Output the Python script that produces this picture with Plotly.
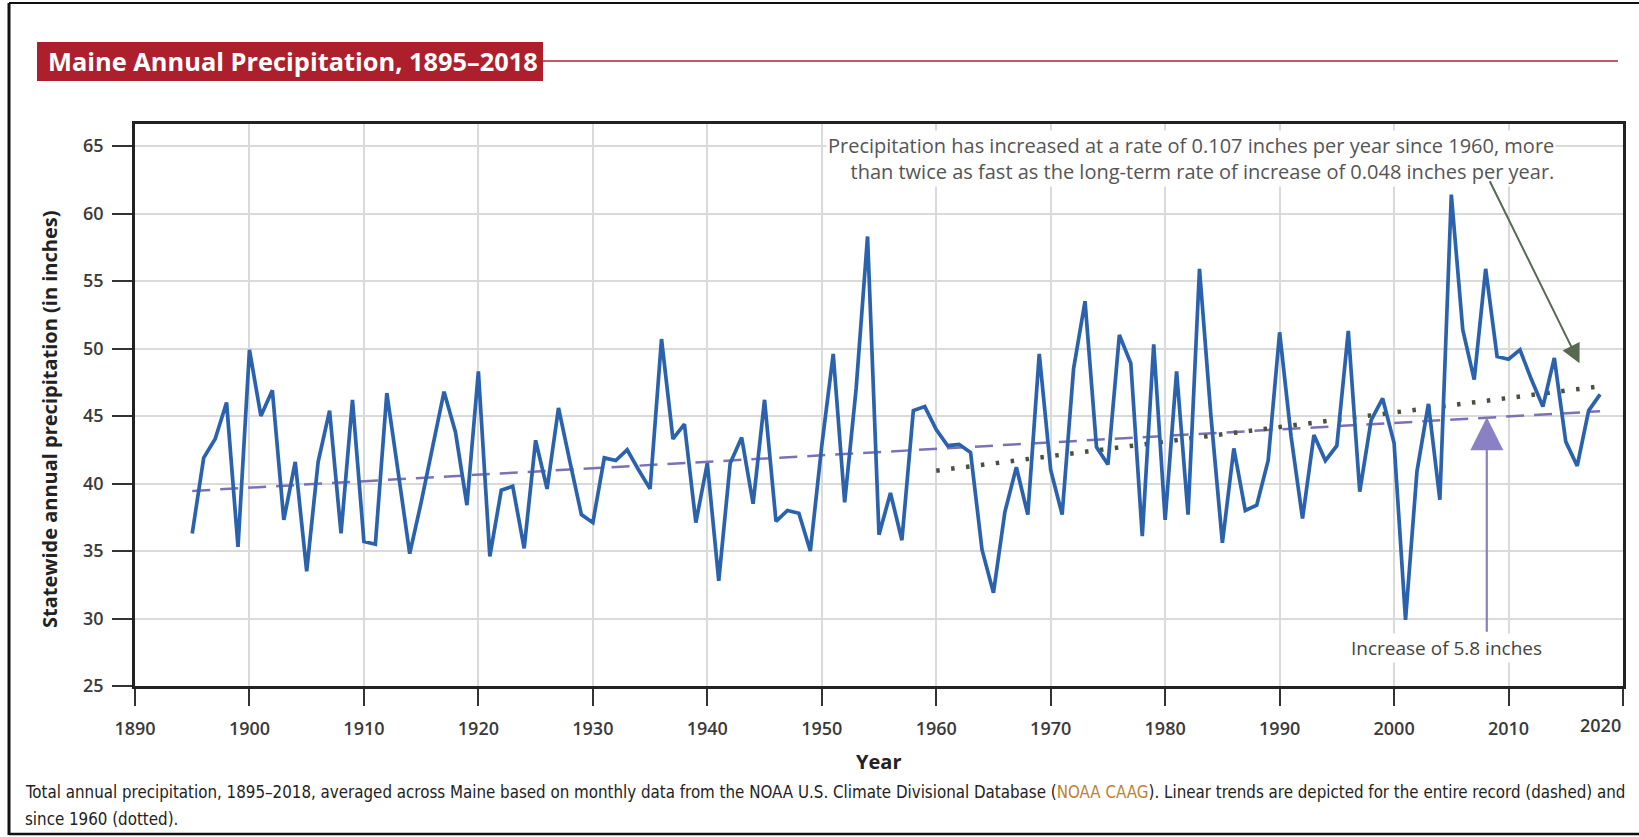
import plotly.graph_objects as go

# ---------------- data ----------------
years = list(range(1895, 2019))
precip = [
    36.3, 41.9, 43.3, 46.0, 35.3,                                # 1895-1899
    49.9, 45.0, 46.9, 37.3, 41.6, 33.5, 41.6, 45.4, 36.3, 46.2,  # 1900s
    35.7, 35.5, 46.7, 40.8, 34.8, 38.6, 42.6, 46.8, 43.8, 38.4,  # 1910s
    48.3, 34.6, 39.5, 39.8, 35.2, 43.2, 39.6, 45.6, 41.6, 37.7,  # 1920s
    37.1, 41.9, 41.7, 42.5, 41.0, 39.6, 50.7, 43.3, 44.4, 37.1,  # 1930s
    41.5, 32.8, 41.5, 43.4, 38.5, 46.2, 37.2, 38.0, 37.8, 35.0,  # 1940s
    42.8, 49.6, 38.6, 47.0, 58.3, 36.2, 39.3, 35.8, 45.4, 45.7,  # 1950s
    44.0, 42.8, 42.9, 42.3, 35.1, 31.9, 37.9, 41.2, 37.7, 49.6,  # 1960s
    41.0, 37.7, 48.5, 53.5, 42.7, 41.4, 51.0, 48.9, 36.1, 50.3,  # 1970s
    37.3, 48.3, 37.7, 55.9, 45.0, 35.6, 42.6, 38.0, 38.4, 41.7,  # 1980s
    51.2, 43.5, 37.4, 43.6, 41.7, 42.8, 51.3, 39.4, 44.7, 46.3,  # 1990s
    43.0, 29.9, 40.9, 45.9, 38.8, 61.4, 51.4, 47.7, 55.9, 49.4,  # 2000s
    49.2, 49.9, 47.7, 45.7, 49.3, 43.1, 41.3, 45.4, 46.6,        # 2010-2018
]

trend_all_years = [1895, 2018]
trend_all_values = [39.45, 45.35]
trend_1960_years = [1960, 2018]
trend_1960_values = [40.95, 47.2]

x_tick_values = list(range(1890, 2021, 10))
x_tick_labels = [str(v) for v in x_tick_values[:-1]] + [""]   # last label placed flush-right below
last_x_label = "2020"
y_tick_values = list(range(25, 66, 5))

title_text = "Maine Annual Precipitation, 1895–2018"
note_text = ("Precipitation has increased at a rate of 0.107 inches per year since 1960, more<br>"
             "than twice as fast as the long-term rate of increase of 0.048 inches per year.")
increase_text = "Increase of 5.8 inches"
caption_line1 = ("Total annual precipitation, 1895–2018, averaged across Maine based on monthly data from the "
                 "NOAA U.S. Climate Divisional Database (<span style='color:#c0802f'>NOAA CAAG</span>). "
                 "Linear trends are depicted for the entire record (dashed) and")
caption_line2 = "since 1960 (dotted)."

# ---------------- figure ----------------
W, H = 1639, 837
L, R, T, B = 135, 16, 124, 151
PW, PH = W - L - R, H - T - B


def px(xp):
    return (xp - L) / PW


def py(yp):
    return (H - B - yp) / PH


fig = go.Figure()

fig.add_trace(go.Scatter(x=trend_all_years, y=trend_all_values, mode="lines",
                         line=dict(color="#7d70b6", width=2.5, dash="18px,10px"),
                         hoverinfo="skip", showlegend=False))
fig.add_trace(go.Scatter(x=trend_1960_years, y=trend_1960_values, mode="lines",
                         line=dict(color="#46533f", width=4.5, dash="3.5px,11.5px"),
                         hoverinfo="skip", showlegend=False))
fig.add_trace(go.Scatter(x=years, y=precip, mode="lines",
                         line=dict(color="#2b62ad", width=3.7),
                         showlegend=False))

tick_font = dict(family="Open Sans, sans-serif", size=18, color="#3a3a3a", weight=600)
narrow = "Liberation Sans Narrow, DejaVu Sans Condensed, Arial Narrow, sans-serif"

fig.update_xaxes(range=[1890, 2020], tickvals=x_tick_values, ticktext=x_tick_labels,
                 ticks="outside", ticklen=17,
                 tickwidth=2, tickcolor="#333", tickfont=tick_font, ticklabelstandoff=8,
                 showgrid=True, gridcolor="#dadada", gridwidth=2,
                 showline=True, linecolor="#222", linewidth=2.5, mirror=True, zeroline=False)
fig.update_yaxes(range=[25, 66.63], tickvals=y_tick_values, ticks="outside", ticklen=20,
                 tickwidth=2, tickcolor="#333", tickfont=tick_font, ticklabelstandoff=5,
                 showgrid=True, gridcolor="#dadada", gridwidth=2,
                 showline=True, linecolor="#222", linewidth=2.5, mirror=True, zeroline=False)

shapes = [
    # title banner
    dict(type="rect", xref="paper", yref="paper", x0=px(37), x1=px(543), y0=py(81), y1=py(42),
         fillcolor="#ad1f2d", line=dict(width=0), layer="above"),
    dict(type="line", xref="paper", yref="paper", x0=px(543), x1=px(1618), y0=py(61), y1=py(61),
         line=dict(color="#b3222f", width=1.5)),
    # outer frame (left, top, bottom)
    dict(type="line", xref="paper", yref="paper", x0=px(9), x1=px(9), y0=py(3), y1=py(835),
         line=dict(color="#111", width=3)),
    dict(type="line", xref="paper", yref="paper", x0=px(9), x1=px(1639), y0=py(3), y1=py(3),
         line=dict(color="#111", width=2)),
    dict(type="line", xref="paper", yref="paper", x0=px(9), x1=px(1639), y0=py(834), y1=py(834),
         line=dict(color="#111", width=2.5)),
]

annotations = [
    dict(text=f"<b>{title_text}</b>", xref="paper", yref="paper", x=px(46), y=py(61),
         xanchor="left", yanchor="middle", showarrow=False,
         font=dict(family="Open Sans, sans-serif", size=25.4, color="white")),
    dict(text="<b>Statewide annual precipitation (in inches)</b>", xref="paper", yref="paper",
         x=px(49), y=py(420), textangle=-90, xanchor="center", yanchor="middle", showarrow=False,
         font=dict(family="Open Sans, sans-serif", size=20, color="#222")),
    dict(text="<b>Year</b>", xref="paper", yref="paper", x=px(878), y=py(761),
         xanchor="center", yanchor="middle", showarrow=False,
         font=dict(family="Open Sans, sans-serif", size=20, color="#222")),
    dict(text=last_x_label, xref="x", yref="paper", x=2020, y=py(711),
         xanchor="right", yanchor="top", showarrow=False, font=tick_font),
    dict(text=caption_line1, xref="paper", yref="paper", x=px(23), y=py(792),
         xanchor="left", yanchor="middle", showarrow=False,
         font=dict(family=narrow, size=16.8, color="#222")),
    dict(text=caption_line2, xref="paper", yref="paper", x=px(23), y=py(819),
         xanchor="left", yanchor="middle", showarrow=False,
         font=dict(family=narrow, size=16.8, color="#222")),
    dict(text=note_text, xref="paper", yref="paper", x=px(1556), y=py(159),
         xanchor="right", yanchor="middle", align="right", showarrow=False, bgcolor="white",
         borderpad=1,
         font=dict(family="Open Sans, sans-serif", size=20, color="#555")),
    # green arrow
    dict(x=2016.2, y=48.9, ax=2008.3, ay=62.5, xref="x", yref="y", axref="x", ayref="y",
         showarrow=True, arrowhead=2, arrowsize=1.9, arrowwidth=2, arrowcolor="#566a52", text=""),
    # purple arrow
    dict(x=2008.1, y=44.9, ax=2008.1, ay=28.9, xref="x", yref="y", axref="x", ayref="y",
         showarrow=True, arrowhead=2, arrowsize=3, arrowwidth=2.2, arrowcolor="#8a80c4", text=""),
    dict(text=increase_text, x=2004.6, y=27.8, xref="x", yref="y", showarrow=False,
         bgcolor="white", xanchor="center", yanchor="middle",
         font=dict(family="Open Sans, sans-serif", size=19, color="#444")),
]

fig.update_layout(width=W, height=H, margin=dict(l=L, r=R, t=T, b=B),
                  paper_bgcolor="white", plot_bgcolor="white",
                  shapes=shapes, annotations=annotations, showlegend=False)

fig.write_html("out.html", config={"displayModeBar": False},
               post_script="document.body.style.margin='0';document.body.style.overflow='hidden';")
